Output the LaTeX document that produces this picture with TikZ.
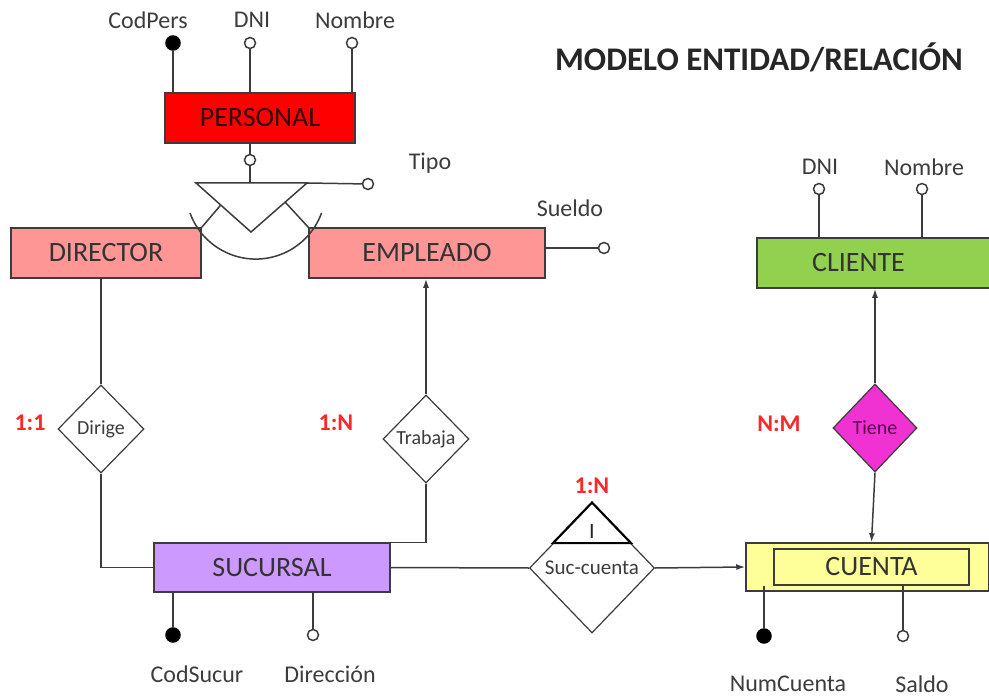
\documentclass[tikz,border=0pt]{standalone}
\usepackage{fontspec}
\setmainfont{Carlito}
\usetikzlibrary{shapes.geometric,arrows.meta,positioning,calc}

\definecolor{personalred}{RGB}{255,0,0}
\definecolor{rolpink}{RGB}{255,150,150}
\definecolor{clientegreen}{RGB}{146,208,80}
\definecolor{sucursallila}{RGB}{204,153,255}
\definecolor{cuentayellow}{RGB}{255,255,153}
\definecolor{tienemagenta}{RGB}{240,50,210}
\definecolor{linegray}{RGB}{60,60,60}
\definecolor{textgray}{RGB}{60,60,60}
\definecolor{cardred}{RGB}{250,40,40}

\tikzset{
  entity/.style={draw=linegray, line width=1.5, rectangle, minimum height=50, inner sep=0pt, font=\fontsize{28}{30}\selectfont, text=black!80},
  relation/.style={draw=linegray, line width=1.2, diamond, aspect=1, inner sep=0pt, fill=white, font=\fontsize{20}{22}\selectfont, text=textgray},
  attr/.style={circle, draw=linegray, line width=1.5, fill=white, inner sep=0pt, minimum size=11},
  keyattr/.style={attr, fill=black, draw=black, minimum size=14},
  attrname/.style={font=\fontsize{24}{26}\selectfont, text=textgray},
  card/.style={font=\bfseries\fontsize{24}{26}\selectfont, text=cardred},
  link/.style={draw=linegray, line width=1.5},
  arrowlink/.style={link, -{Latex[length=9,width=6]}},
}

\begin{document}
\begin{tikzpicture}[x=1pt, y=-1pt]
\useasboundingbox (0,0) rectangle (989,698);

\node[font=\bfseries\fontsize{33}{36}\selectfont, text=black!85] (titulo) at (759,57) {MODELO ENTIDAD/RELACIÓN};

\node[entity, fill=personalred, minimum width=190, text=black!80!red] (personal) at (260,118) {PERSONAL};
\node[entity, fill=rolpink, minimum width=190] (director) at (106,253) {DIRECTOR};
\node[entity, fill=rolpink, minimum width=236] (empleado) at (427,253) {EMPLEADO};
\node[entity, fill=clientegreen, minimum width=233] (cliente) at (873.5,263) {\hspace*{-30pt}CLIENTE};
\node[entity, fill=sucursallila, minimum width=236, minimum height=49] (sucursal) at (272,567.5) {SUCURSAL};
\node[entity, fill=cuentayellow, minimum width=243, minimum height=48] (cuentabox) at (867.5,567) {};
\node[entity, minimum width=195, minimum height=36] (cuenta) at (871.5,567) {CUENTA};

\node[keyattr] (codpers) at (173,43) {};
\node[attr] (dnip) at (250,43) {};
\node[attr] (nombrep) at (352,43) {};
\node[attrname] (codpers-l) at (148,20) {CodPers};
\node[attrname] (dnip-l) at (252,20) {DNI};
\node[attrname] (nombrep-l) at (355,20) {Nombre};
\draw[link] (codpers) -- (codpers |- personal.north);
\draw[link] (dnip) -- (dnip |- personal.north);
\draw[link] (nombrep) -- (nombrep |- personal.north);

\coordinate (isa-l) at (196,183);
\coordinate (isa-r) at (307,183);
\coordinate (isa-b) at (251,232);
\node[attr] (isa) at (250,160) {};
\node[attr] (tipo) at (368,184) {};
\node[attrname] (tipo-l) at (430,163) {Tipo};
\draw[link] (personal.south -| isa) -- (isa);
\draw[link] (isa) -- (isa |- isa-l);
\draw[link, line join=miter] (isa-l) -- (isa-r) -- (isa-b) -- cycle;
\draw[link] (isa-r) -- (tipo);
\draw[link] ($(isa-l)!0.45!(isa-b)$) -- (director.north east);
\draw[link] ($(isa-r)!0.39!(isa-b)$) -- (empleado.north west);
\draw[link] (190,213) arc[start angle=160, end angle=20, radius=70];

\node[attr] (sueldo) at (604,248) {};
\node[attrname] (sueldo-l) at (570,208) {Sueldo};
\draw[link] (empleado.east |- sueldo) -- (sueldo);

\node[attr] (dnic) at (819,189) {};
\node[attr] (nombrec) at (922,189) {};
\node[attrname] (dnic-l) at (820,167) {DNI};
\node[attrname] (nombrec-l) at (924,167) {Nombre};
\draw[link] (dnic) -- (dnic |- cliente.north);
\draw[link] (nombrec) -- (nombrec |- cliente.north);

\node[relation, minimum width=86, minimum height=88] (dirige) at (101,429) {Dirige};
\node[relation, minimum width=86, minimum height=88] (trabaja) at (426,439) {Trabaja};
\node[relation, minimum width=125, minimum height=130, font=\fontsize{21}{23}\selectfont] (succuenta) at (592,568) {Suc-cuenta};
\node[relation, minimum width=84, minimum height=88, fill=tienemagenta, text={rgb,255:red,90;green,0;blue,80}] (tiene) at (875,428) {Tiene};

\draw[line width=2, line join=miter] ($(succuenta.north)!0.62!(succuenta.west)$) -- (succuenta.north) -- ($(succuenta.north)!0.62!(succuenta.east)$) -- cycle;
\node[font=\fontsize{22}{24}\selectfont, text=black!85] (ident) at (592,531) {I};

\draw[link] (director.south -| dirige) -- (dirige.north);
\draw[link] (dirige.south) |- (sucursal.west);
\draw[arrowlink] (trabaja.north) -- (trabaja.north |- empleado.south);
\draw[link] (trabaja.south) |- (sucursal.north east);
\draw[link] (sucursal.east) -- (succuenta.west);
\draw[arrowlink] (succuenta.east) -- (cuentabox.west);
\draw[arrowlink] (tiene.north) -- (tiene.north |- cliente.south);
\draw[arrowlink] (tiene.south) -- (cuenta.north |- cuentabox.north);

\node[card] (card-dirige) at (30,423) {1:1};
\node[card] (card-trabaja) at (336,423) {1:N};
\node[card] (card-succuenta) at (592,486) {1:N};
\node[card] (card-tiene) at (779,424) {N:M};

\node[keyattr] (codsucur) at (173,635) {};
\node[attr] (direccion) at (313,635) {};
\node[attrname] (codsucur-l) at (197,674) {CodSucur};
\node[attrname] (direccion-l) at (330,674) {Dirección};
\draw[link] (codsucur) -- (codsucur |- sucursal.south);
\draw[link] (direccion) -- (direccion |- sucursal.south);

\node[keyattr] (numcuenta) at (764,636) {};
\node[attr] (saldo) at (903,636) {};
\node[attrname] (numcuenta-l) at (788,684) {NumCuenta};
\node[attrname] (saldo-l) at (922,684) {Saldo};
\draw[link] (numcuenta) -- (numcuenta |- cuenta.south);
\draw[link] (saldo) -- (saldo |- cuenta.south);
\end{tikzpicture}
\end{document}
